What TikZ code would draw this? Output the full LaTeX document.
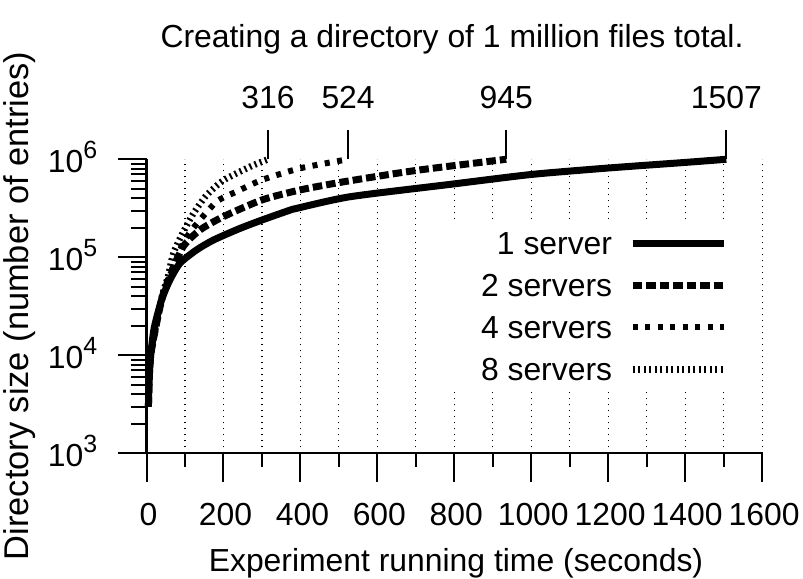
\documentclass[tikz,border=0pt]{standalone}
\usepackage{fontspec}
\setmainfont{Liberation Sans}
\usetikzlibrary{positioning}
\newcommand{\zehn}[1]{10\raisebox{0.47em}{\fontsize{25}{25}\selectfont #1}}

\begin{document}
\begin{tikzpicture}[x=1bp, y=1bp,
		txt/.style={font=\fontsize{32}{38}\selectfont, inner sep=0pt},
		achse/.style={line width=2.2bp},
		tic/.style={line width=2bp},
		raster/.style={line width=1.2bp, dash pattern=on 1.4bp off 4.6bp},
		srv1/.style={line width=7bp, line join=round},
		srv2/.style={line width=7bp, dash pattern=on 9.5bp off 4bp},
		srv4/.style={line width=6bp, dash pattern=on 5bp off 7.5bp},
		srv8/.style={line width=6.5bp, dash pattern=on 2bp off 3.5bp},
		marke/.style={line width=2bp}]
	\useasboundingbox (0,0) rectangle (803,579);
	% Titel
	\node[txt, anchor=base] (titel) at (452,531) {Creating a directory of 1 million files total.};
	% Diagramm: x in Sekunden, y in Dekaden ab 10^3
	\begin{scope}[shift={(146.5,125.7)}, x=0.38475bp, y=98bp]
		% Raster zeichnen
		\foreach \x in {100,200,...,1600} \draw[raster] (\x,0) -- (\x,3);
		% Legende deckt das Raster ab
		\fill[white] (760,0.655) rectangle (1550,2.36);
		% Achsen zeichnen
		\draw[achse] (0,3) -- (0,0) -- (1600,0);
		% x-Achse beschriften
		\foreach \x in {0,200,...,1600}
			\draw[tic] (\x,0) -- (\x,-0.29) node[txt, anchor=base, yshift=-43.3bp, xshift=2bp] (xl\x) {\x};
		\foreach \x in {100,300,...,1500} \draw[tic] (\x,0) -- (\x,-0.143);
		% y-Achse beschriften
		\foreach \e/\p in {0/3,1/4,2/5,3/6}
			\draw[tic] (0,\e) -- (-73.3,\e) node[txt, anchor=base east, xshift=-20bp, yshift=-13.7bp] (yl\p) {\zehn{\p}};
		\foreach \e in {0,1,2} \foreach \m in {2,...,9}
			\draw[tic] (0,{\e+log10(\m)}) -- (-39,{\e+log10(\m)});
		% Messkurven
		\draw[srv1] plot[smooth, tension=0.4] coordinates {(5,0.477) (7,0.778) (11,1) (20,1.279) (39.5,1.568) (60,1.763) (87,1.94) (130,2.075) (174,2.176) (240,2.29) (300,2.38) (370,2.477) (391,2.5) (529,2.618) (789,2.744) (1000,2.845) (1200,2.911) (1400,2.968) (1507,3)};
		\draw[srv2] plot[smooth, tension=0.4] coordinates {(5,0.477) (11,1) (39.5,1.568) (60,1.792) (95,2.107) (139,2.279) (200,2.415) (300,2.585) (399,2.687) (512,2.77) (700,2.886) (935,3)};
		\draw[srv4] plot[smooth, tension=0.4] coordinates {(5,0.477) (11,1) (39.5,1.58) (60,1.82) (80,2) (95,2.146) (122,2.301) (182,2.567) (234,2.67) (300,2.789) (399,2.908) (524,3)};
		\draw[srv8] plot[smooth, tension=0.4] coordinates {(5,0.477) (11,1) (39.5,1.591) (55,1.792) (70,2.041) (95,2.255) (122,2.447) (156,2.633) (200,2.785) (269,2.924) (316,3)};
		% Endwerte markieren
		\coordinate (end1) at (1507,3);
		\coordinate (end2) at (935,3);
		\coordinate (end4) at (524,3);
		\coordinate (end8) at (316,3);
		\coordinate (top1) at (1507,3.299);
		\coordinate (top2) at (935,3.299);
		\coordinate (top4) at (524,3.299);
		\coordinate (top8) at (316,3.299);
		\draw[marke] (end1) -- (top1);
		\draw[marke] (end2) -- (top2);
		\draw[marke] (end4) -- (top4);
		\draw[marke] (end8) -- (top8);
		\node[txt, above=21bp of top1] (n1507) {1507};
		\node[txt, above=21bp of top2] (n945) {945};
		\node[txt, above=21bp of top4] (n524) {524};
		\node[txt, above=21bp of top8] (n316) {316};
	\end{scope}
	% Legende
	\node[txt, anchor=base east] (leg1) at (612.3,324) {1 server};
	\node[txt, anchor=base east] (leg2) at (612.3,282) {2 servers};
	\node[txt, anchor=base east] (leg4) at (612.3,240) {4 servers};
	\node[txt, anchor=base east] (leg8) at (612.3,198) {8 servers};
	\draw[srv1] (632.7,335.7) -- (724,335.7);
	\draw[srv2] (632.7,293.7) -- (724,293.7);
	\draw[srv4] (632.7,251.7) -- (724,251.7);
	\draw[srv8] (632.7,209.7) -- (724,209.7);
	% Achsentitel
	\node[txt, anchor=base] (xlab) at (456,7.3) {Experiment running time (seconds)};
	\node[txt, font=\fontsize{34.5}{40}\selectfont, rotate=90, anchor=base] (ylab) at (28,273) {Directory size (number of entries)};
\end{tikzpicture}
\end{document}
